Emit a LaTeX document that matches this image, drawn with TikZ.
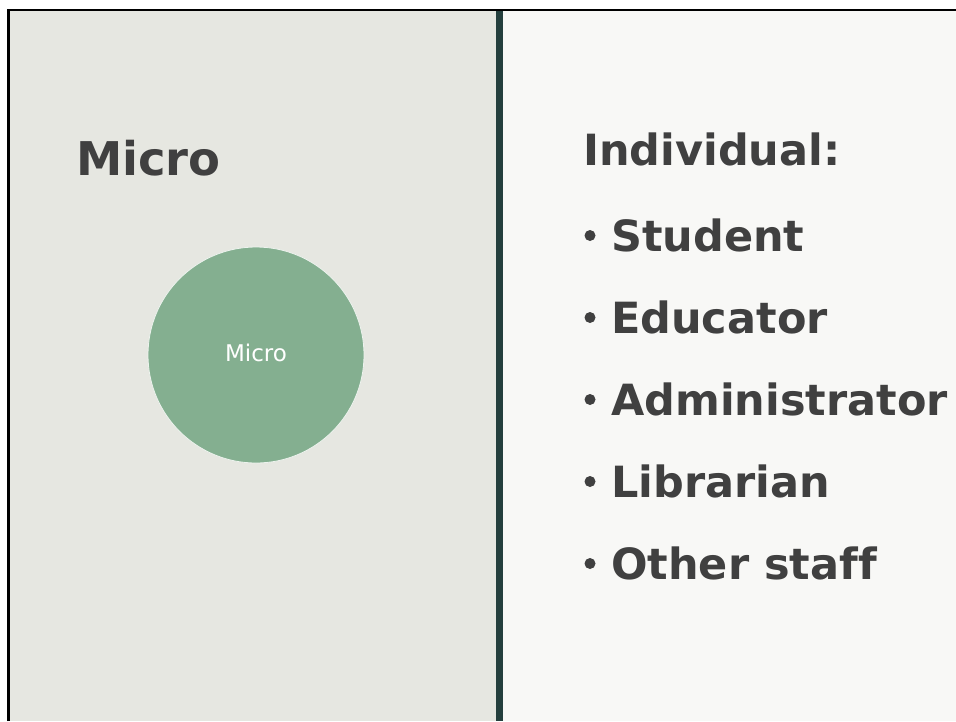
\documentclass[tikz,border=0pt]{standalone}
\usepackage{fontspec}
\setmainfont{DejaVu Sans}[Ligatures=CommonOff]
\definecolor{leftbg}{HTML}{E6E7E1}
\definecolor{rightbg}{HTML}{F8F8F6}
\definecolor{divider}{HTML}{243F3D}
\definecolor{circfill}{HTML}{84AF90}
\definecolor{txt}{HTML}{404040}
\tikzset{
  head/.style={inner sep=0pt, anchor=base west, text=txt, font=\bfseries\fontsize{46.5}{52}\selectfont},
  item/.style={inner sep=0pt, anchor=base west, text=txt, font=\bfseries\fontsize{43}{50}\selectfont},
  bul/.style={circle, fill=txt, inner sep=0pt, minimum size=11pt},
  bigcirc/.style={circle, fill=circfill, draw=white!85!circfill, line width=0.8pt, minimum size=216pt, inner sep=0pt},
  circtext/.style={inner sep=0pt, anchor=base, text=white, font=\fontsize{23}{27}\selectfont}
}
\begin{document}
\begin{tikzpicture}[x=1pt,y=-1pt]
\useasboundingbox (0,0) rectangle (956,721);
\fill[white] (0,0) rectangle (956,721);
\fill[leftbg] (8.3,10) rectangle (496,721);
\fill[rightbg] (503,10) rectangle (956,721);
\fill[divider] (496,10) rectangle (503,721);
\draw[black, line width=2.8pt] (8.3,721) -- (8.3,10) -- (956,10);
% left panel
\node[head] (micro) at (76,175) {Micro};
\node[bigcirc] (c) at (256,355) {};
\node[circtext] (ctext) at (256,361) {Micro};
% right panel
\node[item] (indiv) at (583,165) {Individual:};
\node[bul] (b1) at (590,235.5) {};
\node[item] (i1) at (611,251) {Student};
\node[bul] (b2) at (590,317.5) {};
\node[item] (i2) at (611,333) {Educator};
\node[bul] (b3) at (590,399.5) {};
\node[item] (i3) at (611,415) {Administrator};
\node[bul] (b4) at (590,481.5) {};
\node[item] (i4) at (611,497) {Librarian};
\node[bul] (b5) at (590,563.5) {};
\node[item] (i5) at (611,579) {Other staff};
\end{tikzpicture}
\end{document}
